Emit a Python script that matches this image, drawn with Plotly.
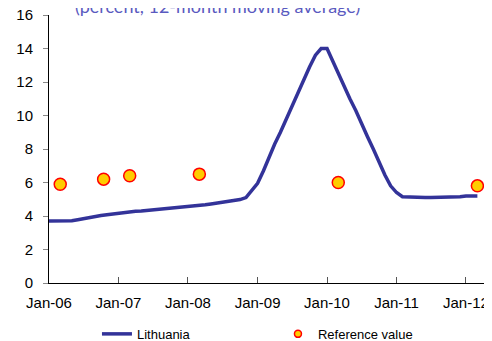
import plotly.graph_objects as go

# ---------------------------------------------------------------------------
# Data
# ---------------------------------------------------------------------------
months = [f"{y}-{m:02d}-01" for y in range(2006, 2013) for m in range(1, 13)][:75]

lithuania = [
    # 2006
    3.70, 3.70, 3.70, 3.70, 3.72, 3.78, 3.85, 3.92, 3.98, 4.03, 4.08, 4.13,
    # 2007
    4.18, 4.23, 4.26, 4.28, 4.30, 4.33, 4.37, 4.41, 4.45, 4.48, 4.51, 4.55,
    # 2008
    4.58, 4.62, 4.64, 4.67, 4.72, 4.78, 4.83, 4.88, 4.93, 4.98, 5.10, 5.50,
    # 2009
    5.95, 6.70, 7.50, 8.30, 9.00, 9.80, 10.60, 11.40, 12.20, 12.90, 13.60, 14.00,
    # 2010
    14.00, 13.20, 12.50, 11.80, 11.00, 10.30, 9.50, 8.75, 8.00, 7.20, 6.45, 5.80,
    # 2011
    5.40, 5.15, 5.13, 5.12, 5.12, 5.11, 5.10, 5.10, 5.10, 5.10, 5.10, 5.15,
    # 2012
    5.20, 5.20, 5.20,
]

ref_dates = ["2006-03-01", "2006-10-15", "2007-03-01", "2008-03-01", "2010-03-01", "2012-03-01"]
ref_values = [5.9, 6.2, 6.4, 6.5, 6.0, 5.8]

_LINE = "#333399"
_TITLE = "#5a5ac0"
_FONT = "Liberation Sans, Arial, sans-serif"

fig = go.Figure()

fig.add_trace(go.Scatter(
    x=months, y=lithuania,
    mode="lines",
    name="Lithuania",
    line=dict(color=_LINE, width=3.5),
))
fig.add_trace(go.Scatter(
    x=ref_dates, y=ref_values,
    mode="markers",
    name="Reference value",
    showlegend=False,
    marker=dict(size=12, color="#FFCC00", line=dict(color="#FF0000", width=1.5)),
))
# legend-only entry with the small marker
fig.add_trace(go.Scatter(
    x=[None], y=[None],
    mode="markers",
    name="Reference value",
    marker=dict(size=7, color="#FFCC00", line=dict(color="#FF0000", width=1.5)),
))

# title, cut off at the top of the image
fig.add_annotation(
    text="(percent, 12-month moving average)",
    xref="paper", yref="paper",
    x=0.382, y=1.034,
    xanchor="center", yanchor="middle",
    showarrow=False,
    font=dict(family="Lato, sans-serif", size=18, color=_TITLE),
)

# page body has an 8px margin, so margins are shifted by 8px
fig.update_layout(
    width=492, height=341,
    margin=dict(l=41, r=11, t=7, b=66, autoexpand=False),
    paper_bgcolor="white",
    plot_bgcolor="white",
    font=dict(family=_FONT, size=15, color="#000000"),
    showlegend=True,
    legend=dict(
        orientation="h",
        x=0.109, xanchor="left",
        y=-0.19, yanchor="middle",
        entrywidth=136, entrywidthmode="pixels",
        font=dict(size=13),
        bgcolor="rgba(0,0,0,0)",
    ),
    xaxis=dict(
        type="date",
        range=["2006-01-01", "2012-05-01"],
        tick0="2006-01-01", dtick="M12",
        tickformat="%b-%y",
        ticks="inside", ticklen=6, tickcolor="#555555",
        ticklabelstandoff=6,
        ticklabeloverflow="allow",
        showline=True, linecolor="#000000", linewidth=1,
        showgrid=False, zeroline=False,
        automargin=False,
    ),
    yaxis=dict(
        range=[0, 16],
        dtick=2,
        ticks="outside", ticklen=5, tickcolor="#888888",
        ticklabelstandoff=7,
        ticklabeloverflow="allow",
        showline=True, linecolor="#000000", linewidth=1,
        showgrid=False, zeroline=False,
        automargin=False,
    ),
)

fig.write_html("out.html")
